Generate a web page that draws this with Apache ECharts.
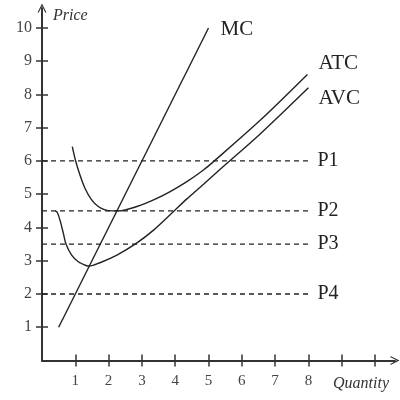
<!DOCTYPE html>
<html>
<head>
<meta charset="utf-8">
<script src="https://cdn.jsdelivr.net/npm/echarts@6/dist/echarts.min.js"></script>
<style>html,body{margin:0;padding:0;background:#fff}#c{width:400px;height:400px}</style>
</head>
<body>
<div id="c"></div>
<script>
// ---- data ----
const mcX = [0.5, 5.0];
const mcY = [1.0, 10.0];
const atcX = [0.91, 1.01, 1.14, 1.29, 1.49, 1.69, 1.89, 2.1, 2.3, 2.85, 3.35, 3.85, 4.35, 4.85, 5.15, 6.56, 7.97];
const atcY = [6.43, 6.0, 5.58, 5.18, 4.83, 4.63, 4.53, 4.5, 4.5, 4.63, 4.83, 5.08, 5.38, 5.73, 5.98, 7.23, 8.6];
const avcX = [0.4, 0.46, 0.54, 0.64, 0.72, 0.89, 1.09, 1.34, 1.42, 1.74, 2.25, 2.83, 3.35, 3.95, 4.35, 4.85, 5.35, 6.56, 8.0];
const avcY = [4.5, 4.45, 4.22, 3.83, 3.5, 3.17, 2.97, 2.85, 2.84, 2.94, 3.17, 3.52, 3.92, 4.48, 4.86, 5.3, 5.75, 6.82, 8.2];
const priceLevels = [6, 4.5, 3.5, 2];
const priceNames = ['P1', 'P2', 'P3', 'P4'];
const priceLineX = [0, 8];
const xTicks = [1, 2, 3, 4, 5, 6, 7, 8, 9, 10];
const xTickLabels = [1, 2, 3, 4, 5, 6, 7, 8];
const yTicks = [1, 2, 3, 4, 5, 6, 7, 8, 9, 10];
const yTickLabels = [1, 2, 3, 4, 5, 6, 7, 8, 9, 10];

const zip = (xs, ys) => xs.map((x, i) => [x, ys[i]]);
const ink = '#222';
const serif = '"Liberation Serif", "DejaVu Serif", serif';
const arrow = 'path://M0,10 L5,0 L10,10 L8.6,10 L5,2.8 L1.4,10 Z';

const chart = echarts.init(document.getElementById('c'), null, {renderer: 'canvas'});

const axisBase = {
  type: 'value', min: 0, max: 10.6, interval: 1,
  splitLine: {show: false}
};

const curveStyle = {color: ink, width: 1.4};

const series = [
  {
    type: 'line', data: zip(mcX, mcY), showSymbol: false, symbol: 'none',
    lineStyle: curveStyle, itemStyle: {color: ink},
    endLabel: {show: true, formatter: 'MC', color: ink, fontFamily: serif, fontSize: 21, distance: 12, offset: [0, 2]}
  },
  {
    type: 'line', data: zip(atcX, atcY), smooth: 0.3, showSymbol: false, symbol: 'none',
    lineStyle: curveStyle, itemStyle: {color: ink},
    endLabel: {show: true, formatter: 'ATC', color: ink, fontFamily: serif, fontSize: 21, distance: 11, offset: [0, -11]}
  },
  {
    type: 'line', data: zip(avcX, avcY), smooth: 0.3, showSymbol: false, symbol: 'none',
    lineStyle: curveStyle, itemStyle: {color: ink},
    endLabel: {show: true, formatter: 'AVC', color: ink, fontFamily: serif, fontSize: 21, distance: 10, offset: [0, 11]}
  }
];

priceLevels.forEach((p, i) => {
  series.push({
    type: 'line', data: priceLineX.map(x => [x, p]), showSymbol: false, symbol: 'none',
    lineStyle: {color: ink, width: 1.3, type: [5, 4]}, itemStyle: {color: ink},
    endLabel: {show: true, formatter: priceNames[i], color: ink, fontFamily: serif, fontSize: 20, distance: 9}
  });
});

chart.setOption({
  animation: false,
  backgroundColor: '#fff',
  grid: {left: 42, right: 5, top: 8, bottom: 39.5, containLabel: false},
  xAxis: [
    Object.assign({}, axisBase, {
      position: 'bottom',
      axisLine: {show: true, onZero: false, lineStyle: {color: '#333', width: 2}, symbol: ['none', arrow], symbolSize: [12, 9]},
      axisTick: {show: true, inside: false, length: 6, customValues: xTicks, lineStyle: {color: '#333', width: 1.5}},
      axisLabel: {show: true, customValues: xTickLabels, margin: 13, color: '#444', fontFamily: serif, fontSize: 15},
      name: 'Quantity', nameLocation: 'end', nameGap: -62,
      nameTextStyle: {fontFamily: serif, fontStyle: 'italic', fontSize: 16, color: '#333', align: 'left', verticalAlign: 'top', padding: [15, 0, 0, 0]}
    }),
    Object.assign({}, axisBase, {
      position: 'bottom',
      axisLine: {show: false},
      axisTick: {show: true, inside: true, length: 6, customValues: xTicks, lineStyle: {color: '#333', width: 1.5}},
      axisLabel: {show: false}
    })
  ],
  yAxis: [
    Object.assign({}, axisBase, {
      position: 'left',
      axisLine: {show: true, onZero: false, lineStyle: {color: '#333', width: 2}, symbol: ['none', arrow], symbolSize: [11, 9]},
      axisTick: {show: true, inside: false, length: 6, customValues: yTicks, lineStyle: {color: '#333', width: 1.5}},
      axisLabel: {show: true, customValues: yTickLabels, margin: 10, color: '#444', fontFamily: serif, fontSize: 16},
      name: 'Price', nameLocation: 'end', nameGap: -8,
      nameTextStyle: {fontFamily: serif, fontStyle: 'italic', fontSize: 16, color: '#333', align: 'left', verticalAlign: 'middle', padding: [0, 0, 0, 11]}
    }),
    Object.assign({}, axisBase, {
      position: 'left',
      axisLine: {show: false},
      axisTick: {show: true, inside: true, length: 6, customValues: yTicks, lineStyle: {color: '#333', width: 1.5}},
      axisLabel: {show: false}
    })
  ],
  series: series
});
</script>
</body>
</html>
